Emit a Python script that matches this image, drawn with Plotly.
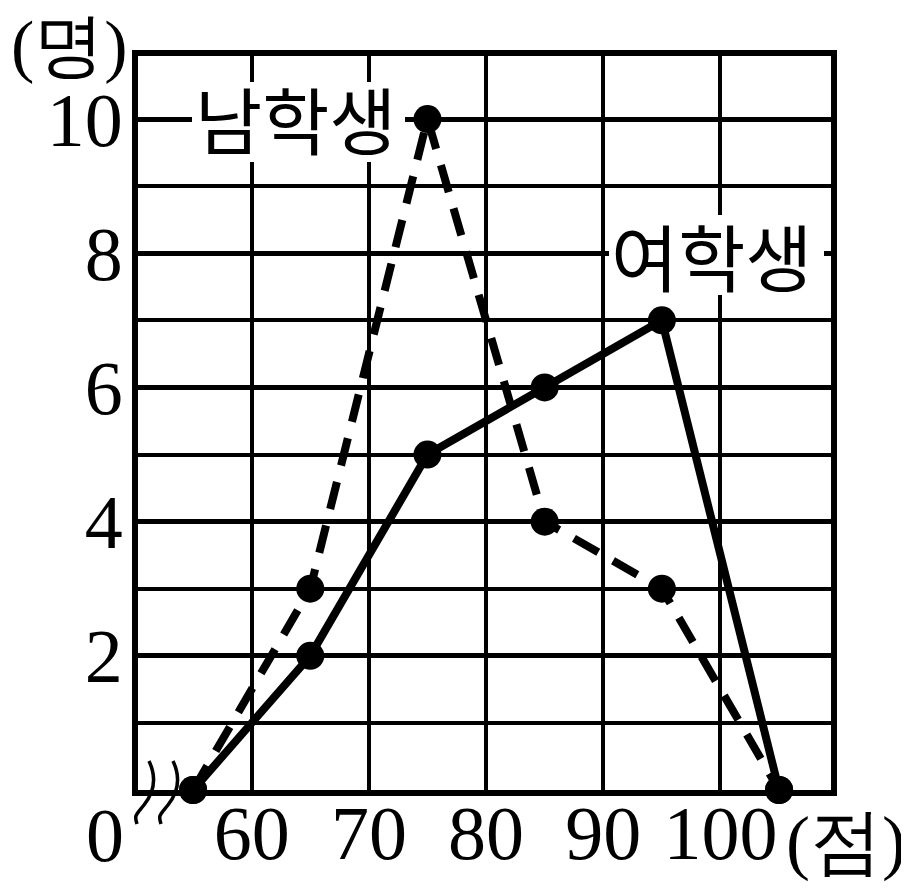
import plotly.graph_objects as go

scores = [55, 65, 75, 85, 95, 105]
boys = [0, 3, 10, 4, 3, 0]
girls = [0, 2, 5, 6, 7, 0]
x_ticks = [60, 70, 80, 90, 100]
x_tick_text = ["60", "70", "80", "90", "100"]
y_ticks = [0, 2, 4, 6, 8, 10]
y_tick_text = ["", "2", "4", "6", "8", "10"]

serif = "Liberation Serif"
sans = "Noto Sans CJK KR"

# page has an 8px body margin; figure sized to fit the window
OFF = 8
W, H = 901, 880
L, T = 130, 48
R = W - 823
B = H - 782
PW, PH = W - L - R, H - T - B
XR = [50.3, 109.43]
YR = [0, 10.94]

fig = go.Figure()
fig.add_trace(go.Scatter(
    x=scores, y=boys, mode="lines+markers", name="남학생",
    line=dict(color="black", width=8, dash="28px,17px"),
    marker=dict(color="black", size=28), cliponaxis=False))
fig.add_trace(go.Scatter(
    x=scores, y=girls, mode="lines+markers", name="여학생",
    line=dict(color="black", width=8),
    marker=dict(color="black", size=28), cliponaxis=False))

def px2x(px):
    return (px - OFF - L) / PW

def py2y(py):
    return (H - B - (py - OFF)) / PH

def px2d(px):
    return XR[0] + px2x(px) * (XR[1] - XR[0])

def py2d(py):
    return YR[0] + py2y(py) * (YR[1] - YR[0])

# break mark near origin (two wavy strokes)
for dx in (0, 24):
    p = (f"M {px2x(149+dx)},{py2y(761)} "
         f"C {px2x(158+dx)},{py2y(780)} {px2x(152+dx)},{py2y(795)} {px2x(144+dx)},{py2y(805)} "
         f"S {px2x(134+dx)},{py2y(815)} {px2x(137+dx)},{py2y(824)}")
    fig.add_shape(type="path", path=p, xref="paper", yref="paper",
                  line=dict(color="black", width=3.5))

# white boxes behind the series labels (above grid, below traces)
for (x0, x1, y0, y1) in [(192, 405, 82, 162), (609, 824, 215, 295)]:
    fig.add_shape(type="rect", xref="x", yref="y",
                  x0=px2d(x0), x1=px2d(x1), y0=py2d(y1), y1=py2d(y0),
                  fillcolor="white", line=dict(width=0), layer="between")

fig.add_annotation(x=75, y=10, xref="x", yref="y", text="남학생", showarrow=False,
                   xanchor="center", xshift=-132, yshift=2,
                   font=dict(family=sans, size=73, color="black"))
fig.add_annotation(x=95, y=8, xref="x", yref="y", text="여학생", showarrow=False,
                   xanchor="center", xshift=50, yshift=-1,
                   font=dict(family=sans, size=73, color="black"))
fig.add_annotation(x=0, y=0, xref="paper", yref="paper", text="0", showarrow=False,
                   xanchor="center", yanchor="middle", xshift=-33, yshift=-45,
                   font=dict(family=serif, size=76, color="black"))
fig.add_annotation(x=1, y=0, xref="paper", yref="paper", text="(점)", showarrow=False,
                   xanchor="center", yanchor="middle", xshift=15, yshift=-52,
                   font=dict(family=serif, size=72, color="black"))
fig.add_annotation(x=0, y=1, xref="paper", yref="paper", text="(명)", showarrow=False,
                   xanchor="center", yanchor="middle", xshift=-69, yshift=11,
                   font=dict(family=serif, size=70, color="black"))

fig.update_xaxes(range=XR, tickvals=x_ticks, ticktext=x_tick_text,
                 showgrid=True, gridcolor="black", gridwidth=4,
                 showline=True, linecolor="black", linewidth=6, mirror=True,
                 ticks="", ticklabelstandoff=-28, zeroline=False, automargin=False,
                 tickfont=dict(family=serif, size=76, color="black"))
fig.update_yaxes(range=YR, tickvals=y_ticks, ticktext=y_tick_text,
                 showgrid=True, gridcolor="black", gridwidth=5,
                 minor=dict(dtick=1, showgrid=True, gridcolor="black", gridwidth=4, ticks=""),
                 showline=True, linecolor="black", linewidth=6, mirror=True,
                 ticks="", ticklabelstandoff=-6, zeroline=False, automargin=False,
                 tickfont=dict(family=serif, size=76, color="black"))

fig.update_layout(width=W, height=H, margin=dict(l=L, r=R, t=T, b=B, autoexpand=False),
                  plot_bgcolor="white", paper_bgcolor="white", showlegend=False)

fig.write_html("out.html")
